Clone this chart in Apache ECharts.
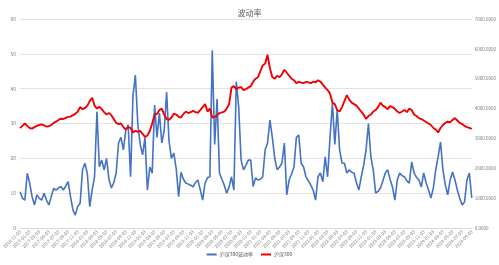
<!DOCTYPE html>
<html><head><meta charset="utf-8">
<script src="https://cdn.jsdelivr.net/npm/echarts@6/dist/echarts.min.js"></script>
<style>html,body{margin:0;padding:0;background:#fff}#c{width:499px;height:265px}</style>
</head><body><div id="c"></div>
<script>
// Semi-monthly sample dates (day 03 and 18) from 2016-11-03 to 2024-09-03
const startYear = 2016, startMonth = 11, sampleDays = ['03', '18'], sampleCount = 189;
const dates = [];
for (let k = 0; dates.length < sampleCount; k++) {
  const m0 = startMonth - 1 + k;
  const y = startYear + Math.floor(m0 / 12), m = (m0 % 12) + 1;
  for (const d of sampleDays) {
    if (dates.length < sampleCount) dates.push(y + '-' + String(m).padStart(2, '0') + '-' + d);
  }
}

const volatility = [
  10.4, 8.6, 8, 15.7, 12.9, 9, 6.6, 9.5, 8.5, 8, 10, 8, 6.6, 9, 11.4, 10.9, 11.5, 11.9, 10.9,
  12.0,
  13.3, 9, 5.2, 3.7, 6.2, 7.1, 16.7, 18.6, 15.7, 6.1, 10.9, 14.7, 33.4, 17.6, 19.5, 16.7, 20,
  14,
  11.5, 13, 15.8, 24.4, 26, 22.4, 28, 29.6, 14.7, 38, 43.9, 30, 24, 21, 26, 10.9, 17.5, 15.7, 35.3, 26, 33, 24.4, 28, 39, 25, 20, 21.5, 17, 9, 16, 14, 12.9, 12.6, 12.3, 11.8, 13, 13.8,
  11,
  8, 12.9, 14.4, 14.7, 51, 24, 37, 15.8, 14, 12.3, 10, 11.8, 14.7, 10.9, 42, 34.7, 19.5, 16.7, 18, 19.5, 19.5, 11.9, 14.4, 13.8, 14, 14.7, 22.4, 24.4, 31, 26, 20, 16.7, 17.5, 18.6, 24.4, 9.5, 13.8,
  15.5,
  17.5, 26, 26.7, 18.6, 17.5, 14.7, 13.5, 12.3, 10.9, 8, 14.7, 15.8, 13.3, 20.4, 14.7, 26, 35.8, 24, 33.9, 22.4, 18.6, 18.6, 15.8, 16.7, 16, 15.8, 13, 10.9, 14.7, 18, 22.4, 30, 20.4, 16.7, 10, 10.5, 11.5,
  13.5,
  15.8, 16.7, 14, 11.8, 8, 13.8, 15.8, 15, 14.7, 13.5, 12.9, 19, 15.8, 14.5, 13.8, 11.8, 15.8, 13, 10.9, 8.6, 11.5, 16.7, 20.4, 24.7, 16.7, 12.3, 9.5, 13.8, 16.1, 13.8, 10.9, 8.5, 6.6, 7.5, 13.8, 15.8, 8.6
];

const csi300 = [
  3350, 3420, 3500, 3420, 3350, 3330, 3380, 3420, 3450, 3470,
  3440, 3400, 3410, 3450, 3520, 3560, 3620, 3660, 3650, 3690,
  3720, 3730, 3780, 3820, 3900, 4050, 3980, 4020, 4100, 4250,
  4360, 4100, 4000, 4060, 3980, 3880, 3800, 3850, 3780, 3650,
  3520, 3480, 3500, 3380, 3300, 3380, 3350, 3200, 3260, 3220,
  3250, 3150, 3050, 3100, 3250, 3500, 3800, 3820, 3950, 4000,
  3800, 3650, 3620, 3700, 3830, 3800, 3720, 3700, 3820, 3900,
  3850, 3880, 3920, 3880, 3860, 3950, 4050, 4150, 3900, 4000,
  3700, 3720, 3780, 3850, 3870, 3900, 4000, 4150, 4700, 4750,
  4650, 4700, 4720, 4620, 4650, 4700, 4750, 4900, 5000, 5050,
  5250, 5450, 5500, 5800, 5350, 5050, 5000, 5100, 5050, 5150,
  5300, 5200, 5100, 5000, 4950, 4850, 4900, 4870, 4850, 4900,
  4880, 4850, 4900, 4880, 4950, 4900, 4800, 4700, 4620, 4500,
  4200, 4150, 3950, 3900, 4050, 4250, 4450, 4300, 4200, 4150,
  4100, 4000, 3900, 3800, 3650, 3750, 3800, 3900, 3950, 4050,
  4200, 4100, 4050, 3980, 4080, 4050, 3990, 3900, 3850, 3900,
  3950, 3880, 4000, 3950, 3800, 3750, 3680, 3650, 3600, 3550,
  3500, 3450, 3350, 3300, 3200, 3350, 3450, 3520, 3560, 3540,
  3620, 3680, 3600, 3520, 3480, 3420, 3380, 3350, 3320
];

const titleText = '波动率';
const seriesNames = ['沪深300波动率', '沪深300'];
const leftTicks = { min: 0, max: 60, interval: 10 };
const rightTicks = { min: 0, max: 7000, interval: 1000 };

const font = '"Noto Sans CJK SC", "Noto Sans", sans-serif';
const chart = echarts.init(document.getElementById('c'), null, { renderer: 'canvas' });
chart.setOption({
  animation: false,
  backgroundColor: '#ffffff',
  title: {
    text: titleText, left: 'center', top: 4,
    textStyle: { fontSize: 8, fontWeight: 'normal', color: '#595959', fontFamily: font }
  },
  legend: {
    data: seriesNames, bottom: 3, left: 'center',
    itemWidth: 10, itemHeight: 2, itemGap: 8, icon: 'rect',
    textStyle: { fontSize: 5, color: '#595959', fontFamily: font, padding: [0, 0, 0, -2] }
  },
  grid: { left: 20, right: 27, top: 19, bottom: 37, containLabel: false },
  xAxis: {
    type: 'category', data: dates, boundaryGap: false,
    axisLine: { lineStyle: { color: '#d9d9d9' } },
    axisTick: { show: false },
    axisLabel: { interval: 3, rotate: 45, fontSize: 4.5, color: '#7f7f7f', margin: 3, fontFamily: font },
    splitLine: { show: false }
  },
  yAxis: [
    {
      type: 'value', min: leftTicks.min, max: leftTicks.max, interval: leftTicks.interval,
      axisLine: { show: false }, axisTick: { show: false },
      axisLabel: { fontSize: 5, color: '#7f7f7f', margin: 4, fontFamily: font },
      splitLine: { lineStyle: { color: '#e3e3e3', width: 1 } }
    },
    {
      type: 'value', min: rightTicks.min, max: rightTicks.max, interval: rightTicks.interval,
      axisLine: { show: false }, axisTick: { show: false },
      axisLabel: { fontSize: 4.5, color: '#7f7f7f', margin: 3, fontFamily: font, formatter: v => v.toFixed(4) },
      splitLine: { show: false }
    }
  ],
  series: [
    {
      name: seriesNames[0], type: 'line', yAxisIndex: 0, data: volatility,
      showSymbol: false, symbol: 'none', color: '#4472C4',
      lineStyle: { color: '#4472C4', width: 1.6 }
    },
    {
      name: seriesNames[1], type: 'line', yAxisIndex: 1, data: csi300,
      showSymbol: false, symbol: 'none', color: '#F00000',
      lineStyle: { color: '#F00000', width: 1.9 }
    }
  ]
});
</script></body></html>
